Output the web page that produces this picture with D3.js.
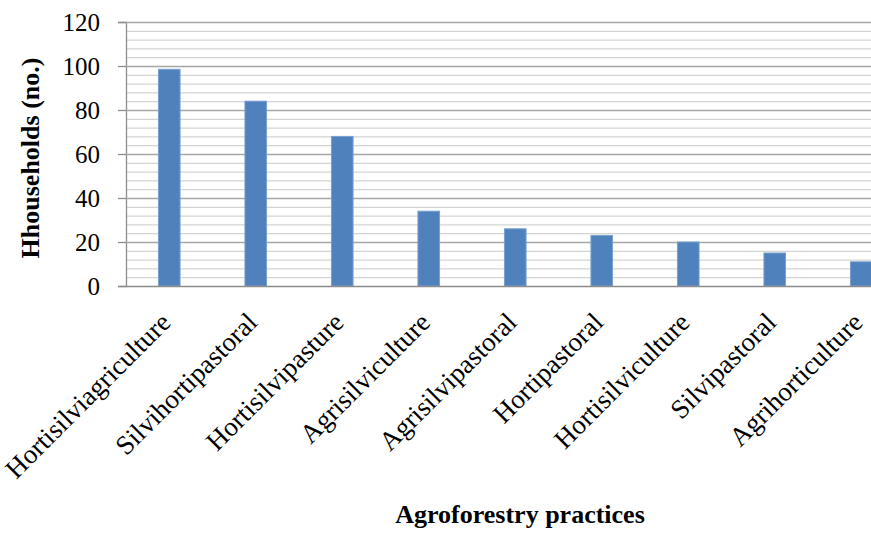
<!DOCTYPE html>
<html>
<head>
<meta charset="utf-8">
<script src="https://cdn.jsdelivr.net/npm/d3@7"></script>
<style>
  body { margin: 0; background: #fff; }
</style>
</head>
<body>
<svg id="chart" width="871" height="535" font-family="Liberation Serif"></svg>
<script>
// categories and values
const practices = ['Hortisilviagriculture', 'Silvihortipastoral', 'Hortisilvipasture', 'Agrisilviculture',
    'Agrisilvipastoral', 'Hortipastoral', 'Hortisilviculture', 'Silvipastoral', 'Agrihorticulture'];
const households = [98.5, 84, 68, 34, 26, 23, 20, 15, 11];
const yTicks = [0, 20, 40, 60, 80, 100, 120];

const serif = 'Liberation Serif';
const svg = d3.select('#chart');

const margin = { top: 22, left: 126 };
const height = 264;
const step = 86.5;
const width = step * practices.length;   // plot runs past the right edge, like the picture

const chart = svg.append('g')
    .attr('transform', `translate(${margin.left}, ${margin.top})`)

const xScale = d3.scaleBand()
    .range([0, width])
    .domain(practices)
    .paddingInner(0.75)
    .paddingOuter(0.375)

const yScale = d3.scaleLinear()
    .range([height, 0])
    .domain([0, 120])

/*minor grid*/
chart.append('g')
    .selectAll('line')
    .data(d3.range(0, 121, 4).filter((v) => v % 20 != 0))
    .enter()
    .append('line')
    .attr('x1', 0)
    .attr('x2', 871)
    .attr('y1', (v) => yScale(v) + 0.5)
    .attr('y2', (v) => yScale(v) + 0.5)
    .attr('stroke', '#d4d4d4')
    .attr('stroke-width', 1.2)

/*major grid + y axis*/
const yAxis = chart.append('g')
    .call(d3.axisLeft(yScale)
        .tickValues(yTicks)
        .tickSize(8)
        .tickPadding(18)
        .tickFormat(d3.format('d')))
yAxis.attr('font-family', serif)
yAxis.select('.domain').attr('stroke', '#8c8c8c').attr('stroke-width', 1.3)
yAxis.selectAll('.tick line').attr('stroke', '#8c8c8c').attr('stroke-width', 1.3)
yAxis.selectAll('.tick text')
    .attr('font-family', serif)
    .attr('font-size', 25)
    .attr('fill', '#000')

chart.append('g')
    .selectAll('line')
    .data(yTicks.slice(1))
    .enter()
    .append('line')
    .attr('x1', 0)
    .attr('x2', 871)
    .attr('y1', (v) => yScale(v) + 0.5)
    .attr('y2', (v) => yScale(v) + 0.5)
    .attr('stroke', '#a6a6a6')
    .attr('stroke-width', 1.3)

/*bars*/
chart.append('g')
    .selectAll('rect')
    .data(practices)
    .enter()
    .append('rect')
    .attr('fill', '#4f81bd')
    .attr('stroke', '#79a0d0')
    .attr('stroke-width', 1)
    .attr('x', (p) => xScale(p))
    .attr('y', (p, i) => yScale(households[i]))
    .attr('width', xScale.bandwidth())
    .attr('height', (p, i) => height - yScale(households[i]))

/*x axis line*/
chart.append('line')
    .attr('x1', 0)
    .attr('x2', 871)
    .attr('y1', height + 0.5)
    .attr('y2', height + 0.5)
    .attr('stroke', '#8c8c8c')
    .attr('stroke-width', 1.3)

/*category labels, slanted*/
chart.append('g')
    .selectAll('text')
    .data(practices)
    .enter()
    .append('text')
    .attr('transform', (p) => `translate(${xScale(p) + xScale.bandwidth() / 2 + 3}, ${height + 38}) rotate(-45)`)
    .attr('text-anchor', 'end')
    .attr('font-family', serif)
    .attr('font-size', 27)
    .attr('fill', '#000')
    .text((p) => p)

/*axis titles*/
svg.append('text')
    .attr('transform', `translate(39, ${margin.top + height / 2 + 4}) rotate(-90)`)
    .attr('text-anchor', 'middle')
    .attr('font-family', serif)
    .attr('font-weight', 'bold')
    .attr('font-size', 26)
    .text('Hhouseholds (no.)')

svg.append('text')
    .attr('x', 520)
    .attr('y', 523)
    .attr('text-anchor', 'middle')
    .attr('font-family', serif)
    .attr('font-weight', 'bold')
    .attr('font-size', 26)
    .text('Agroforestry practices')
</script>
</body>
</html>
